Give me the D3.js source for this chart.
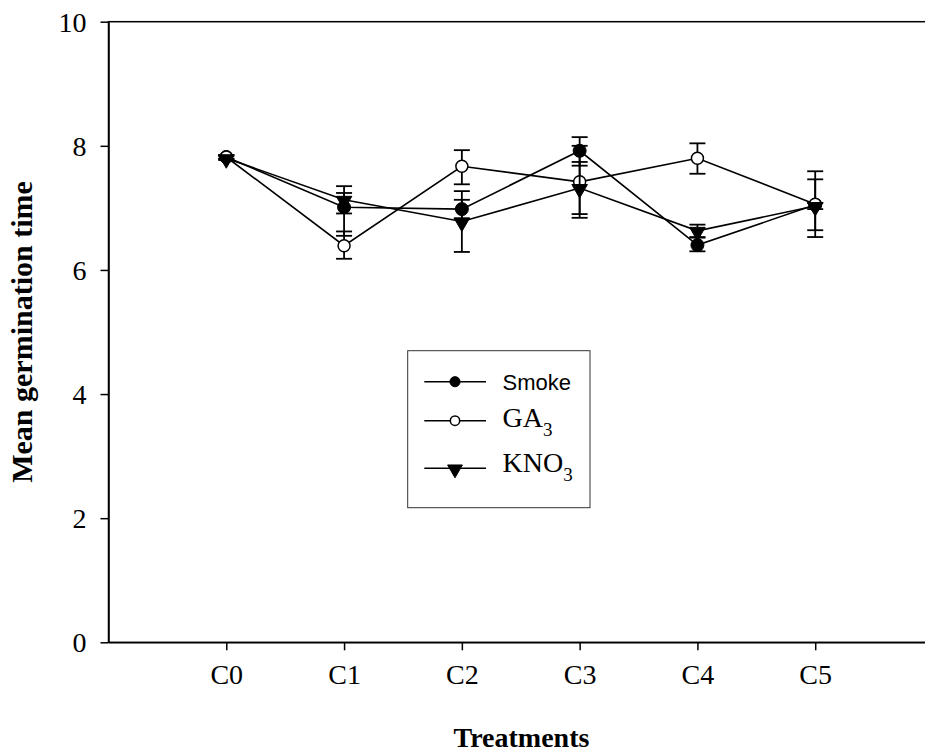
<!DOCTYPE html>
<html>
<head>
<meta charset="utf-8">
<script src="https://cdn.jsdelivr.net/npm/d3@7"></script>
<style>
  html, body { margin: 0; padding: 0; background: #fff; }
  svg { display: block; }
</style>
</head>
<body>
<svg id="chart" width="925" height="753"></svg>
<script>
// Treatments on the x axis
const categories = ["C0", "C1", "C2", "C3", "C4", "C5"];

// Mean germination time per treatment
const smokeValues = [7.82, 7.01, 6.98, 7.92, 6.40, 7.05];
const ga3Values   = [7.82, 6.39, 7.67, 7.42, 7.80, 7.06];
const kno3Values  = [7.80, 7.13, 6.78, 7.32, 6.63, 7.03];

// Error bar extents above / below each mean
const smokeErrUp   = [0.03, 0.23, 0.15, 0.22, 0.12, 0.41];
const smokeErrDown = [0.03, 0.46, 0.15, 0.24, 0.10, 0.41];
const ga3ErrUp     = [0.03, 0.23, 0.26, 0.58, 0.24, 0.53];
const ga3ErrDown   = [0.03, 0.21, 0.29, 0.58, 0.25, 0.53];
const kno3ErrUp    = [0.03, 0.22, 0.49, 0.42, 0.10, 0.05];
const kno3ErrDown  = [0.03, 0.22, 0.49, 0.42, 0.10, 0.05];

const yTicks = [0, 2, 4, 6, 8, 10];

const series = [
  { name: "Smoke", values: smokeValues, up: smokeErrUp, down: smokeErrDown, marker: "filled" },
  { name: "GA", sub: "3", values: ga3Values, up: ga3ErrUp, down: ga3ErrDown, marker: "open" },
  { name: "KNO", sub: "3", values: kno3Values, up: kno3ErrUp, down: kno3ErrDown, marker: "triangle" }
];

const serif = "'Times New Roman', 'Liberation Serif', serif";
const sans = "Arial, 'Liberation Sans', sans-serif";

const svg = d3.select("#chart");

const plotLeft = 108.5, plotRight = 933, plotTop = 21.7, plotBottom = 642.3;

// category index -> x; one empty slot on each side of the treatments
const x = d3.scaleLinear().domain([-1, categories.length]).range([plotLeft, plotRight]);
const y = d3.scaleLinear().domain([0, 10]).range([plotBottom, plotTop]);

// plot frame
svg.append("rect")
  .attr("x", plotLeft).attr("y", plotTop)
  .attr("width", plotRight - plotLeft).attr("height", plotBottom - plotTop)
  .attr("fill", "none").attr("stroke", "#000").attr("stroke-width", 1.5);

// y axis
const yAxis = d3.axisLeft(y).tickValues(yTicks).tickSize(8).tickSizeOuter(0)
  .tickPadding(14).tickFormat(d3.format("d"));
const gy = svg.append("g").attr("transform", `translate(${plotLeft},0)`).call(yAxis);
gy.select(".domain").attr("stroke-width", 1.5);
gy.selectAll(".tick line").attr("stroke-width", 1.5);
gy.selectAll(".tick text")
  .attr("font-family", serif).attr("font-size", 28).attr("fill", "#000")
  .attr("dy", "0.34em");

// x axis
const xAxis = d3.axisBottom(x).tickValues(d3.range(categories.length))
  .tickSize(8).tickSizeOuter(0).tickPadding(14).tickFormat(i => categories[i]);
const gx = svg.append("g").attr("transform", `translate(0,${plotBottom})`).call(xAxis);
gx.select(".domain").attr("stroke-width", 1.5);
gx.selectAll(".tick line").attr("stroke-width", 1.5);
gx.selectAll(".tick text")
  .attr("font-family", serif).attr("font-size", 28).attr("fill", "#000")
  .attr("dy", "0.71em");

// axis titles
svg.append("text")
  .attr("x", 521.5).attr("y", 746.5)
  .attr("text-anchor", "middle")
  .attr("font-family", serif).attr("font-weight", "bold").attr("font-size", 28)
  .text("Treatments");

svg.append("text")
  .attr("transform", `translate(31.5,${(plotTop + plotBottom) / 2}) rotate(-90)`)
  .attr("text-anchor", "middle")
  .attr("font-family", serif).attr("font-weight", "bold").attr("font-size", 30)
  .text("Mean germination time");

function drawMarker(g, kind, cx, cy, scale) {
  if (kind === "filled") {
    g.append("circle").attr("cx", cx).attr("cy", cy).attr("r", 6.5 * scale)
      .attr("fill", "#000").attr("stroke", "#000").attr("stroke-width", 1);
  } else if (kind === "open") {
    g.append("circle").attr("cx", cx).attr("cy", cy).attr("r", 6 * scale)
      .attr("fill", "#fff").attr("stroke", "#000").attr("stroke-width", 1.5);
  } else {
    g.append("path")
      .attr("d", d3.symbol().type(d3.symbolTriangle).size(105 * scale * scale)())
      .attr("transform", `translate(${cx},${cy + 1 * scale}) rotate(180)`)
      .attr("fill", "#000").attr("stroke", "#000").attr("stroke-width", 1);
  }
}

const line = d3.line().x((d, i) => x(i)).y(d => y(d));

// each series: connecting line, error bars, then symbols
series.forEach(s => {
  const g = svg.append("g");
  g.append("path").datum(s.values)
    .attr("d", line).attr("fill", "none")
    .attr("stroke", "#000").attr("stroke-width", 1.6);

  s.values.forEach((v, i) => {
    const cx = x(i);
    const yHi = y(v + s.up[i]), yLo = y(v - s.down[i]);
    g.append("line").attr("x1", cx).attr("x2", cx).attr("y1", yHi).attr("y2", yLo)
      .attr("stroke", "#000").attr("stroke-width", 1.8);
    [yHi, yLo].forEach(yy => {
      g.append("line").attr("x1", cx - 8).attr("x2", cx + 8).attr("y1", yy).attr("y2", yy)
        .attr("stroke", "#000").attr("stroke-width", 1.8);
    });
  });

  s.values.forEach((v, i) => drawMarker(g, s.marker, x(i), y(v), 1));
});

// legend
const legend = svg.append("g");
legend.append("rect")
  .attr("x", 407.7).attr("y", 350.7).attr("width", 182.3).attr("height", 157)
  .attr("fill", "#fff").attr("stroke", "#333").attr("stroke-width", 1);

const legendRows = [381.7, 420.7, 468.3];
series.forEach((s, k) => {
  const ly = legendRows[k];
  legend.append("line").attr("x1", 424.3).attr("x2", 486).attr("y1", ly).attr("y2", ly)
    .attr("stroke", "#000").attr("stroke-width", 1.6);
  drawMarker(legend, s.marker, 455, ly, s.marker === "triangle" ? 0.95 : 0.78);
  const t = legend.append("text").attr("x", 502.5).attr("fill", "#000");
  if (s.marker === "filled") {
    t.attr("y", ly + 8).attr("font-family", sans).attr("font-size", 22).text(s.name);
  } else {
    t.attr("y", ly + (k === 2 ? 3.4 : 6)).attr("font-family", serif).attr("font-size", 28);
    t.append("tspan").text(s.name);
    t.append("tspan").attr("font-size", 19).attr("dy", 9.5).text(s.sub);
  }
});
</script>
</body>
</html>
